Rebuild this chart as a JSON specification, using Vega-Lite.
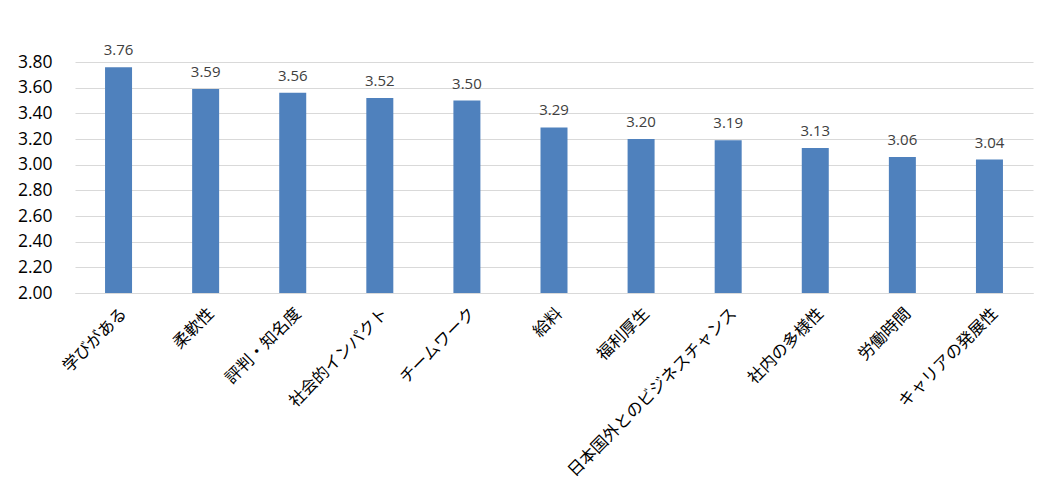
{
  "$schema": "https://vega.github.io/schema/vega-lite/v6.json",
  "width": 958,
  "height": 231,
  "autosize": {"type": "none"},
  "padding": {"left": 75, "top": 62, "right": 17, "bottom": 196},
  "background": "white",
  "config": {"view": {"stroke": null}, "font": "Noto Sans CJK JP"},
  "data": {"values": [
    {"item": "学びがある", "score": 3.76},
    {"item": "柔軟性", "score": 3.59},
    {"item": "評判・知名度", "score": 3.56},
    {"item": "社会的インパクト", "score": 3.52},
    {"item": "チームワーク", "score": 3.50},
    {"item": "給料", "score": 3.29},
    {"item": "福利厚生", "score": 3.20},
    {"item": "日本国外とのビジネスチャンス", "score": 3.19},
    {"item": "社内の多様性", "score": 3.13},
    {"item": "労働時間", "score": 3.06},
    {"item": "キャリアの発展性", "score": 3.04}
  ]},
  "encoding": {
    "x": {"field": "item", "type": "nominal", "sort": null,
      "scale": {"paddingInner": 0.69, "paddingOuter": 0.345},
      "axis": {"title": null, "labelAngle": -45, "labelFontSize": 16.5, "labelColor": "#000000",
        "ticks": false, "domain": true, "domainColor": "#d9d9d9", "labelPadding": 12, "labelLimit": 400}},
    "y": {"field": "score", "type": "quantitative",
      "scale": {"domain": [2, 3.8], "zero": false, "nice": false},
      "axis": {"title": null, "values": [2, 2.2, 2.4, 2.6, 2.8, 3, 3.2, 3.4, 3.6, 3.8], "format": ".2f",
        "labelFontSize": 17.5, "labelColor": "#000000", "labelFont": "Open Sans", "ticks": false, "domain": false,
        "gridColor": "#d9d9d9", "labelPadding": 23}}
  },
  "layer": [
    {"mark": {"type": "bar", "color": "#4f81bd"},
      "encoding": {"y2": {"datum": 2}}},
    {"mark": {"type": "text", "dy": -17, "fontSize": 15, "color": "#404040", "font": "Open Sans"},
      "encoding": {"text": {"field": "score", "type": "quantitative", "format": ".2f"}}}
  ]
}
